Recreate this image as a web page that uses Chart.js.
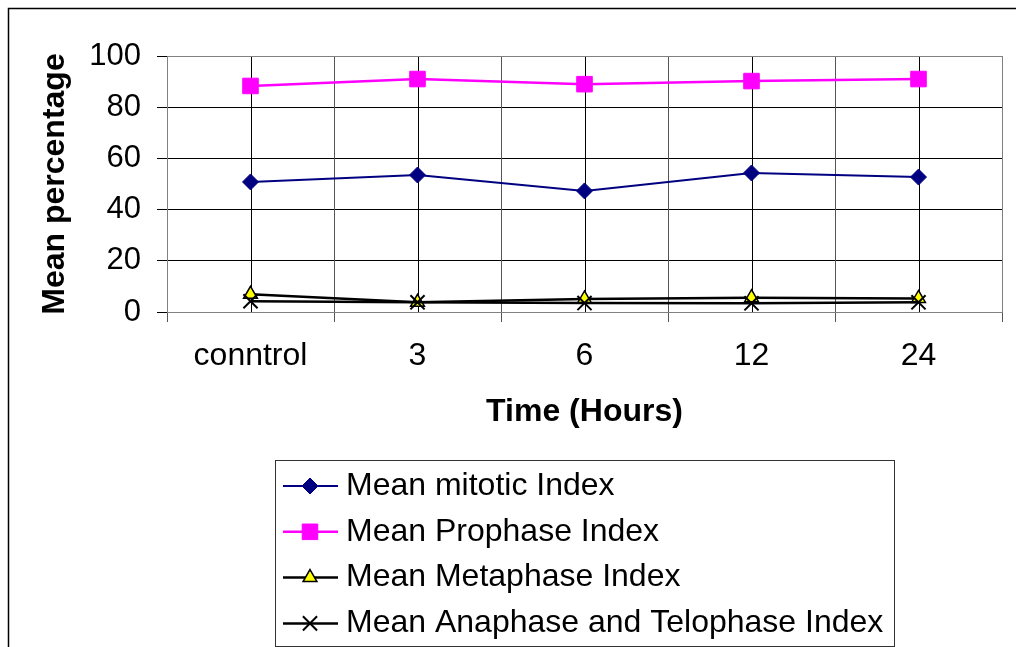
<!DOCTYPE html>
<html>
<head>
<meta charset="utf-8">
<script src="https://cdn.jsdelivr.net/npm/chart.js@4/dist/chart.umd.min.js"></script>
<style>
  html, body { margin: 0; padding: 0; background: #fff; }
  #wrap { width: 1016px; height: 647px; }
</style>
</head>
<body>
<div id="wrap"><canvas id="myChart" width="1016" height="647"></canvas></div>
<script>
var timeLabels = ['conntrol', '3', '6', '12', '24'];
var mitotic = [50.8, 53.5, 47.3, 54.3, 52.7];
var prophase = [88.3, 91, 89, 90.2, 91];
var metaphase = [6.9, 3.8, 5.1, 5.6, 5.3];
var anaphase = [4.2, 3.8, 3.5, 3.4, 3.8];
var seriesNames = ['Mean mitotic Index', 'Mean Prophase Index', 'Mean Metaphase Index', 'Mean Anaphase and Telophase Index'];
var yTicks = [0, 20, 40, 60, 80, 100];

var FONT = "'Liberation Sans', Arial, sans-serif";

// extra lines: outer frame, plot border, centre gridlines, tick marks between categories
var framePlugin = {
  id: 'frame',
  beforeDatasetsDraw: function(chart) {
    var c = chart.ctx, a = chart.chartArea, x = chart.scales.x;
    c.save();
    c.lineWidth = 1;
    c.strokeStyle = '#000';
    x.ticks.forEach(function(t, i) {
      var px = Math.round(x.getPixelForValue(i)) + 0.5;
      c.beginPath(); c.moveTo(px, a.top); c.lineTo(px, a.bottom); c.stroke();
    });
    c.strokeStyle = '#555';
    var step = x.getPixelForValue(1) - x.getPixelForValue(0);
    for (var i = 0; i <= x.ticks.length; i++) {
      var bx = Math.round(x.getPixelForValue(0) - step / 2 + i * step) + 0.5;
      c.beginPath(); c.moveTo(bx, a.top); c.lineTo(bx, a.bottom + 10); c.stroke();
    }
    c.strokeStyle = '#808080';
    c.strokeRect(Math.round(a.left) + 0.5, Math.round(a.top) + 0.5, Math.round(a.right - a.left), Math.round(a.bottom - a.top));
    c.restore();
  },
  afterDraw: function(chart) {
    var c = chart.ctx;
    c.save();
    c.lineWidth = 1.5;
    c.strokeStyle = '#000';
    c.strokeRect(8.5, 8.5, 1200, 1200);

    // legend box
    c.lineWidth = 1;
    c.strokeStyle = '#333';
    c.strokeRect(275.5, 460.5, 619, 186);
    chart.data.datasets.forEach(function(ds, i) {
      var y = 486 + i * 45.8;
      c.strokeStyle = ds.borderColor;
      c.lineWidth = ds.borderWidth;
      c.beginPath(); c.moveTo(283, y); c.lineTo(338, y); c.stroke();
      c.fillStyle = ds.pointBackgroundColor;
      c.strokeStyle = ds.pointBorderColor;
      c.lineWidth = ds.pointBorderWidth;
      Chart.helpers.drawPoint(c, { pointStyle: ds.pointStyle, radius: ds.pointRadius, rotation: 0, borderWidth: ds.pointBorderWidth }, 310, y);
      c.fillStyle = '#000';
      c.font = '32px ' + FONT;
      c.textBaseline = 'middle';
      c.textAlign = 'left';
      c.fillText(ds.label, 346, y);
    });
    c.restore();
  }
};

var ctx = document.getElementById('myChart').getContext('2d');
var myChart = new Chart(ctx, {
  type: 'line',
  data: {
    labels: timeLabels,
    datasets: [{
      label: seriesNames[0],
      data: mitotic,
      borderColor: '#000080',
      borderWidth: 2,
      pointStyle: 'rectRot',
      pointRadius: 8,
      pointBackgroundColor: '#000080',
      pointBorderColor: '#000080',
      pointBorderWidth: 1,
      order: 4
    }, {
      label: seriesNames[1],
      data: prophase,
      borderColor: '#FF00FF',
      borderWidth: 2.5,
      pointStyle: 'rect',
      pointRadius: 11,
      pointBackgroundColor: '#FF00FF',
      pointBorderColor: '#FF00FF',
      pointBorderWidth: 1,
      order: 3
    }, {
      label: seriesNames[2],
      data: metaphase,
      borderColor: '#000',
      borderWidth: 2.5,
      pointStyle: 'triangle',
      pointRadius: 8,
      pointBackgroundColor: '#FFFF00',
      pointBorderColor: '#000',
      pointBorderWidth: 1.5,
      order: 2
    }, {
      label: seriesNames[3],
      data: anaphase,
      borderColor: '#000',
      borderWidth: 2.5,
      pointStyle: 'crossRot',
      pointRadius: 10,
      pointBackgroundColor: '#000',
      pointBorderColor: '#000',
      pointBorderWidth: 2,
      order: 1
    }]
  },
  options: {
    responsive: false,
    animation: false,
    events: [],
    layout: { padding: { left: 0, top: 56, right: 14, bottom: 0 } },
    elements: { line: { tension: 0 } },
    plugins: {
      legend: { display: false },
      tooltip: { enabled: false }
    },
    scales: {
      x: {
        offset: true,
        grid: { display: true, drawOnChartArea: false, drawTicks: true, tickLength: 10, tickColor: 'transparent' },
        border: { color: '#808080' },
        ticks: { color: '#000', font: { family: FONT, size: 32 }, padding: 15, maxRotation: 0 },
        title: {
          display: true, text: 'Time (Hours)', color: '#000',
          font: { family: FONT, size: 32, weight: 'bold' },
          padding: { top: 0, bottom: 216 }
        },
        afterFit: function(s) { s.height = 335; }
      },
      y: {
        min: 0, max: 100,
        afterBuildTicks: function(s) { s.ticks = yTicks.map(function(v) { return { value: v }; }); },
        grid: { color: '#000', tickColor: '#000', tickLength: 10 },
        border: { color: '#808080' },
        ticks: { color: '#000', font: { family: FONT, size: 31 }, padding: 16 },
        title: {
          display: true, text: 'Mean percentage', color: '#000',
          font: { family: FONT, size: 32, weight: 'bold' },
          padding: { top: 36, bottom: 0 }
        },
        afterFit: function(s) { s.width = 167; }
      }
    }
  },
  plugins: [framePlugin]
});
</script>
</body>
</html>
